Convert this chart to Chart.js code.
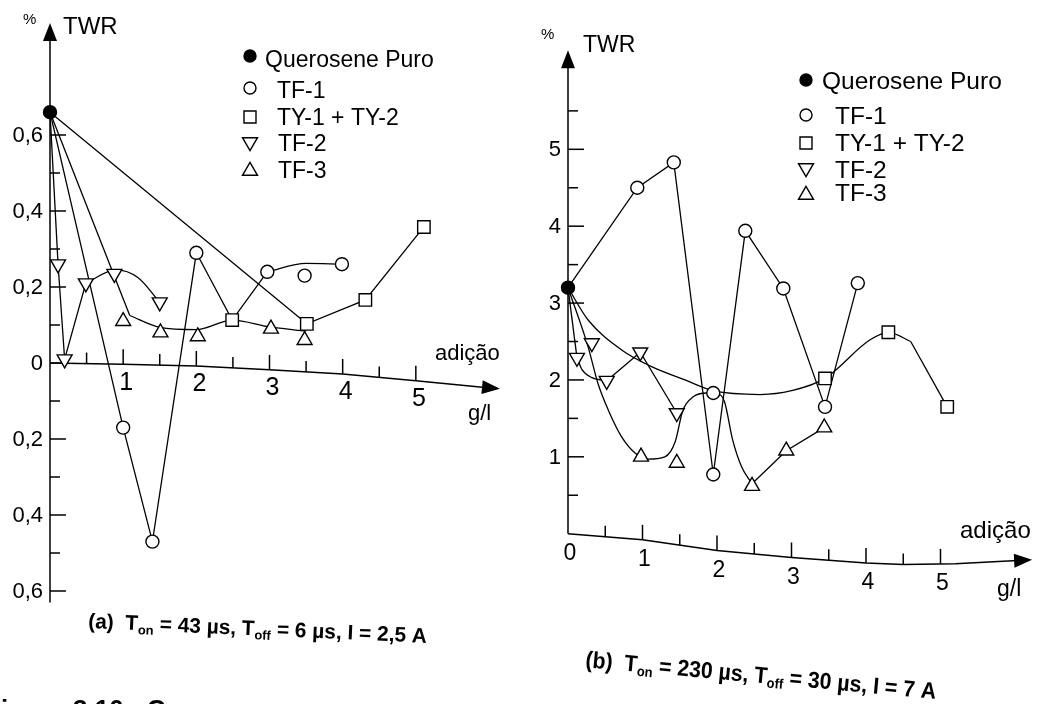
<!DOCTYPE html>
<html><head><meta charset="utf-8">
<script src="https://cdn.jsdelivr.net/npm/chart.js@4.4.1/dist/chart.umd.min.js"></script>
<style>
html,body{margin:0;padding:0;background:#fff;width:1041px;height:704px;overflow:hidden}
#wa{position:absolute;left:0;top:0;width:520px;height:704px}
#wb{position:absolute;left:520px;top:0;width:521px;height:704px}
canvas{display:block}
</style></head><body>
<div id="wa"><canvas id="ca" width="520" height="704"></canvas></div>
<div id="wb"><canvas id="cb" width="521" height="704"></canvas></div>
<script>
// ---------- legend / series names ----------
const seriesNames = ['Querosene Puro', 'TF-1', 'TY-1 + TY-2', 'TF-2', 'TF-3'];

// ---------- Panel (a) : Ton = 43 us ----------
const aQuerosene = [[0, 0.66]];
const aTF1 = [[1.0, -0.17], [1.4, -0.47], [2.0, 0.29], [2.97, 0.24], [3.48, 0.23], [3.99, 0.26]];
const aTY = [[2.49, 0.113], [3.51, 0.103], [4.31, 0.166], [5.11, 0.358]];
const aTF2 = [[0.11, 0.26], [0.2, 0.01], [0.49, 0.21], [0.88, 0.235], [1.5, 0.16]];
const aTF3 = [[1.0, 0.11], [1.51, 0.08], [2.02, 0.07], [3.02, 0.09], [3.48, 0.06]];
// connecting lines / fitted curves
const aLineTF1 = [[0, 0.66], [1.0, -0.17], [1.4, -0.47], [2.0, 0.29], [2.49, 0.113], [2.97, 0.24]];
const aCurveTF1 = [[2.97, 0.24], [3.5, 0.262], [3.99, 0.26]];
const aLineTY = [[0, 0.66], [3.51, 0.103], [4.31, 0.166], [5.11, 0.358]];
const aLineTF2 = [[0, 0.66], [0.11, 0.26], [0.2, 0.01], [0.49, 0.21]];
const aCurveTF2 = [[0.49, 0.21], [0.9, 0.245], [1.2, 0.225], [1.5, 0.16]];
const aLineTF3 = [[0, 0.66], [1.09, 0.125]];
const aCurveTF3 = [[1.09, 0.125], [1.5, 0.094], [2.0, 0.088], [2.49, 0.113], [3.0, 0.095], [3.5, 0.084]];
// ticks
const aXTickMarks = [0.5, 1, 1.5, 2, 2.5, 3, 3.5, 4, 4.5, 5];
const aXTickValues = [1, 2, 3, 4, 5];
const aXTickLabels = ['1', '2', '3', '4', '5'];
const aYTickValues = [0.6, 0.4, 0.2, 0, -0.2, -0.4, -0.6];
const aYTickLabels = ['0,6', '0,4', '0,2', '0', '0,2', '0,4', '0,6'];
const aYMinorTicks = [0.5, 0.3, 0.1, -0.1, -0.3, -0.5];

// ---------- Panel (b) : Ton = 230 us ----------
const bQuerosene = [[0, 3.2]];
const bTF1 = [[0.93, 4.5], [1.42, 4.83], [1.95, 0.77], [1.95, 1.83], [2.38, 3.94], [2.89, 3.19], [3.45, 1.65], [3.89, 3.26]];
const bTY = [[3.45, 2.02], [4.3, 2.62], [5.09, 1.65]];
const bTF2 = [[0.12, 2.29], [0.32, 2.48], [0.52, 1.99], [0.97, 2.36], [1.46, 1.57]];
const bTF3 = [[0.98, 1.0], [1.46, 0.92], [2.47, 0.62], [2.93, 1.08], [3.44, 1.38]];
const bLineTF1 = [[0, 3.2], [0.93, 4.5], [1.42, 4.83], [1.95, 0.77], [2.38, 3.94], [2.89, 3.19], [3.45, 1.65], [3.89, 3.26]];
const bCurveTY = [[0, 3.2], [0.27, 2.78], [0.72, 2.39], [1.13, 2.17], [1.57, 2.0], [1.95, 1.86], [2.58, 1.81], [3.0, 1.86], [3.45, 2.02], [4.05, 2.52], [4.3, 2.62], [4.6, 2.5]];
const bLineTY = [[4.6, 2.5], [5.09, 1.65]];
const bLineTF2a = [[0, 3.2], [0.12, 2.29]];
const bCurveTF2 = [[0.12, 2.29], [0.19, 2.13], [0.32, 2.03], [0.52, 1.99]];
const bLineTF2b = [[0.52, 1.99], [0.97, 2.36], [1.46, 1.57]];
const bCurveTF3 = [[0, 3.2], [0.27, 2.43], [0.4, 1.96], [0.54, 1.61], [0.72, 1.26], [0.9, 1.05], [1.07, 0.97], [1.3, 1.0], [1.44, 1.2], [1.54, 1.6], [1.68, 1.78], [1.86, 1.83], [2.0, 1.82], [2.1, 1.72], [2.21, 1.22], [2.33, 0.87], [2.47, 0.65]];
const bLineTF3 = [[2.47, 0.65], [2.93, 1.08], [3.44, 1.38]];
const bXTickMarks = [0.5, 1, 1.5, 2, 2.5, 3, 3.5, 4, 4.5, 5];
const bXTickValues = [0, 1, 2, 3, 4, 5];
const bXTickLabels = ['0', '1', '2', '3', '4', '5'];
const bYTickValues = [1, 2, 3, 4, 5];
const bYTickLabels = ['1', '2', '3', '4', '5'];
const bYMinorTicks = [0.5, 1.5, 2.5, 3.5, 4.5, 5.5];

// ---------- helpers ----------
const FONT = '"Liberation Sans", Arial, Helvetica, sans-serif';
const pts = arr => arr.map(p => ({x: p[0], y: p[1]}));

function markerSet(label, arr, kind) {
  const d = {label, data: pts(arr), showLine: false, clip: false, order: 0,
    pointBorderColor: '#000', pointBorderWidth: 1.4, pointBackgroundColor: '#fff',
    pointStyle: 'circle', pointRadius: 6.5, pointRotation: 0};
  if (kind === 'dot') { d.pointBackgroundColor = '#000'; d.pointRadius = 6.5; }
  if (kind === 'square') { d.pointStyle = 'rect'; d.pointRadius = 8.8; }
  if (kind === 'down') { d.pointStyle = 'triangle'; d.pointRadius = 8.6; d.pointRotation = 180; }
  if (kind === 'up') { d.pointStyle = 'triangle'; d.pointRadius = 8.6; }
  d.pointHoverRadius = d.pointRadius;
  return d;
}
function lineSet(arr, curved) {
  return {data: pts(arr), showLine: true, pointRadius: 0, pointHoverRadius: 0, borderColor: '#000',
    borderWidth: 1.3, fill: false, clip: false, order: 1,
    tension: curved ? 0.4 : 0, cubicInterpolationMode: curved ? 'monotone' : 'default'};
}
function interp(path, v) {
  for (let i = 0; i < path.length - 1; i++) {
    const a = path[i], b = path[i + 1];
    if (v >= a[0] && v <= b[0]) return a[1] + (b[1] - a[1]) * (v - a[0]) / (b[0] - a[0]);
  }
  return path[path.length - 1][1];
}
function arrow(ctx, tx, ty, dx, dy, len, half) {
  const n = Math.hypot(dx, dy); dx /= n; dy /= n;
  const bx = tx - dx * len, by = ty - dy * len;
  ctx.beginPath(); ctx.moveTo(tx, ty);
  ctx.lineTo(bx - dy * half, by + dx * half);
  ctx.lineTo(bx + dy * half, by - dx * half);
  ctx.closePath(); ctx.fill();
}
function legendMarker(ctx, kind, x, y) {
  ctx.beginPath();
  if (kind === 'dot' || kind === 'circle') ctx.arc(x, y, 6, 0, Math.PI * 2);
  else if (kind === 'square') ctx.rect(x - 6, y - 6, 12, 12);
  else if (kind === 'down') { ctx.moveTo(x - 7.5, y - 4.3); ctx.lineTo(x + 7.5, y - 4.3); ctx.lineTo(x, y + 8.7); ctx.closePath(); }
  else { ctx.moveTo(x, y - 8.7); ctx.lineTo(x - 7.5, y + 4.3); ctx.lineTo(x + 7.5, y + 4.3); ctx.closePath(); }
  ctx.fillStyle = kind === 'dot' ? '#000' : '#fff'; ctx.fill();
  ctx.lineWidth = 1.4; ctx.strokeStyle = '#000'; ctx.stroke();
}
function richText(ctx, segs, x, y, angle, size, targetW) {
  ctx.save(); ctx.translate(x, y); ctx.rotate(angle * Math.PI / 180);
  let w = 0;
  segs.forEach(s => { ctx.font = `bold ${Math.round(size * s[1])}px ${FONT}`; w += ctx.measureText(s[0]).width; });
  ctx.scale(targetW / w, 1);
  let cx = 0; ctx.textBaseline = 'alphabetic'; ctx.textAlign = 'left'; ctx.fillStyle = '#000';
  segs.forEach(s => { ctx.font = `bold ${Math.round(size * s[1])}px ${FONT}`; ctx.fillText(s[0], cx, s[2]); cx += ctx.measureText(s[0]).width; });
  ctx.restore();
}

const markerKinds = ['dot', 'circle', 'square', 'down', 'up'];

// ---------- panel styles (positions in page pixels) ----------
const PANELS = {
  ca: {
    offX: 0,
    xTicks: aXTickMarks, xLabelVals: aXTickValues, xLabels: aXTickLabels, xLabelSize: 25, xLabelDx: 3, xLabelDy: 18.5,
    yMajor: aYTickValues, yLabels: aYTickLabels, yMinor: aYMinorTicks, yLabelSize: 22,
    yAxisFrom: -0.63, yAxisTo: 0.895,
    xAxisPath: [[0, 0], [1, -0.003], [2, -0.008], [3, -0.018], [4, -0.029], [5, -0.047], [6.15, -0.068]],
    pct: [28, 20, 15], twr: [63, 27, 24],
    adicao: [435, 354, 22], gl: [468, 414, 22],
    legend: {mx: 250, tx: [265, 277, 277, 278, 278], my: [56, 88, 117, 142, 171], ty: [61, 92, 119, 145, 172], size: 23},
    caption: {segs: [['(a)  ', 1, 0], ['T', 1, 0], ['on', 0.62, 4], [' = 43 µs, ', 1, 0], ['T', 1, 0], ['off', 0.62, 4], [' = 6 µs, I = 2,5 A', 1, 0]],
      x: 88, y: 628, angle: 2.5, size: 21, w: 339},
    footer: true
  },
  cb: {
    offX: 520,
    xTicks: bXTickMarks, xLabelVals: bXTickValues, xLabels: bXTickLabels, xLabelSize: 23, xLabelDx: 2, xLabelDy: 20,
    yMajor: bYTickValues, yLabels: bYTickLabels, yMinor: bYMinorTicks, yLabelSize: 22,
    yAxisFrom: 0, yAxisTo: 6.29,
    xAxisPath: [[0, 0], [1, -0.08], [2, -0.22], [3, -0.31], [4, -0.38], [4.5, -0.40], [5.2, -0.39], [6.23, -0.34]],
    pct: [546, 35, 15], twr: [583, 46, 23],
    adicao: [960, 531, 24], gl: [997, 590, 23],
    legend: {mx: 806, tx: [822, 835, 835, 835, 835], my: [80, 115, 143, 168, 195], ty: [82, 117, 144, 171, 194], size: 24.5},
    caption: {segs: [['(b)  ', 1, 0], ['T', 1, 0], ['on', 0.62, 4], [' = 230 µs, ', 1, 0], ['T', 1, 0], ['off', 0.62, 4], [' = 30 µs, I = 7 A', 1, 0]],
      x: 585, y: 667, angle: 5.2, size: 23, w: 352},
    footer: false
  }
};

const sketchPlugin = {
  id: 'sketch',
  beforeDatasetsDraw(chart) {
    const P = PANELS[chart.canvas.id]; if (!P) return;
    const ctx = chart.ctx, xs = chart.scales.x, ys = chart.scales.y;
    const X = v => xs.getPixelForValue(v), Y = v => ys.getPixelForValue(v);
    ctx.save();
    ctx.strokeStyle = '#000'; ctx.fillStyle = '#000'; ctx.lineWidth = 1.5; ctx.lineCap = 'butt';
    // y axis
    const x0 = X(0);
    ctx.beginPath(); ctx.moveTo(x0, Y(P.yAxisFrom)); ctx.lineTo(x0, Y(P.yAxisTo) + 10); ctx.stroke();
    arrow(ctx, x0, Y(P.yAxisTo), 0, -1, 18, 7);
    P.yMajor.forEach(v => { ctx.beginPath(); ctx.moveTo(x0, Y(v)); ctx.lineTo(x0 + 16, Y(v)); ctx.stroke(); });
    P.yMinor.forEach(v => { ctx.beginPath(); ctx.moveTo(x0, Y(v)); ctx.lineTo(x0 + 10, Y(v)); ctx.stroke(); });
    // x axis (follows the slightly bent baseline of the scan)
    const path = P.xAxisPath;
    ctx.beginPath();
    path.forEach((p, i) => { const px = X(p[0]), py = Y(p[1]); if (i === 0) ctx.moveTo(px, py); else if (i === path.length - 1) {
      const q = path[i - 1]; const dx = X(p[0]) - X(q[0]), dy = Y(p[1]) - Y(q[1]); const n = Math.hypot(dx, dy);
      ctx.lineTo(px - dx / n * 10, py - dy / n * 10); } else ctx.lineTo(px, py); });
    ctx.stroke();
    const L = path[path.length - 1], K = path[path.length - 2];
    arrow(ctx, X(L[0]), Y(L[1]), X(L[0]) - X(K[0]), Y(L[1]) - Y(K[1]), 18, 7);
    P.xTicks.forEach(v => {
      const yy = Y(interp(path, v)); const len = Number.isInteger(v) ? 15 : 11;
      ctx.beginPath(); ctx.moveTo(X(v), yy); ctx.lineTo(X(v), yy - len); ctx.stroke();
    });
    ctx.restore();
  },
  afterDatasetsDraw(chart) {
    const P = PANELS[chart.canvas.id]; if (!P) return;
    const ctx = chart.ctx, xs = chart.scales.x, ys = chart.scales.y;
    const X = v => xs.getPixelForValue(v), Y = v => ys.getPixelForValue(v);
    const o = P.offX;
    ctx.save(); ctx.fillStyle = '#000';
    // y tick labels
    ctx.font = `${P.yLabelSize}px ${FONT}`; ctx.textAlign = 'right'; ctx.textBaseline = 'middle';
    P.yMajor.forEach((v, i) => ctx.fillText(P.yLabels[i], X(0) - 7, Y(v) + 1));
    // x tick labels
    ctx.font = `${P.xLabelSize}px ${FONT}`; ctx.textAlign = 'center';
    P.xLabelVals.forEach((v, i) => ctx.fillText(P.xLabels[i], X(v) + P.xLabelDx, Y(interp(P.xAxisPath, v)) + P.xLabelDy));
    // axis titles
    ctx.textAlign = 'left';
    ctx.font = `${P.pct[2]}px ${FONT}`; ctx.fillText('%', P.pct[0] - o - 5, P.pct[1]);
    ctx.font = `${P.twr[2]}px ${FONT}`; ctx.fillText('TWR', P.twr[0] - o, P.twr[1]);
    ctx.font = `${P.adicao[2]}px ${FONT}`; ctx.fillText('adição', P.adicao[0] - o, P.adicao[1]);
    ctx.font = `${P.gl[2]}px ${FONT}`; ctx.fillText('g/l', P.gl[0] - o, P.gl[1]);
    // legend
    const lg = P.legend;
    seriesNames.forEach((name, i) => {
      legendMarker(ctx, markerKinds[i], lg.mx - o, lg.my[i]);
      ctx.fillStyle = '#000'; ctx.font = `${lg.size}px ${FONT}`; ctx.textAlign = 'left'; ctx.textBaseline = 'middle';
      ctx.fillText(name, lg.tx[i] - o, lg.ty[i]);
    });
    // caption
    const c = P.caption;
    richText(ctx, c.segs, c.x - o, c.y, c.angle, c.size, c.w);
    if (P.footer) {
      ctx.fillStyle = '#000'; ctx.font = `bold 26px ${FONT}`; ctx.textAlign = 'left'; ctx.textBaseline = 'alphabetic';
      ctx.fillText('Figura', -15, 718);
      ctx.fillText('3.10 - C', 73, 718);
    }
    ctx.restore();
  }
};

function makeChart(id, datasets, xr, yr, pad) {
  return new Chart(document.getElementById(id), {
    type: 'scatter',
    data: {datasets},
    options: {
      responsive: false, animation: false, devicePixelRatio: 1, events: [],
      layout: {padding: pad},
      scales: {
        x: {type: 'linear', display: false, min: xr[0], max: xr[1]},
        y: {type: 'linear', display: false, min: yr[0], max: yr[1]}
      },
      plugins: {legend: {display: false}, tooltip: {enabled: false}}
    },
    plugins: [sketchPlugin]
  });
}

makeChart('ca', [
  markerSet(seriesNames[0], aQuerosene, 'dot'),
  markerSet(seriesNames[1], aTF1, 'circle'),
  markerSet(seriesNames[2], aTY, 'square'),
  markerSet(seriesNames[3], aTF2, 'down'),
  markerSet(seriesNames[4], aTF3, 'up'),
  lineSet(aLineTF1, false), lineSet(aCurveTF1, true),
  lineSet(aLineTY, false),
  lineSet(aLineTF2, false), lineSet(aCurveTF2, true),
  lineSet(aLineTF3, false), lineSet(aCurveTF3, true)
], [0, 6], [-0.65, 0.9], {left: 50, right: 31, top: 21, bottom: 94});

makeChart('cb', [
  markerSet(seriesNames[0], bQuerosene, 'dot'),
  markerSet(seriesNames[1], bTF1, 'circle'),
  markerSet(seriesNames[2], bTY, 'square'),
  markerSet(seriesNames[3], bTF2, 'down'),
  markerSet(seriesNames[4], bTF3, 'up'),
  lineSet(bLineTF1, false),
  lineSet(bCurveTY, true), lineSet(bLineTY, false),
  lineSet(bLineTF2a, false), lineSet(bCurveTF2, true), lineSet(bLineTF2b, false),
  lineSet(bCurveTF3, true), lineSet(bLineTF3, false)
], [0, 6], [-1.5, 6.5], {left: 48, right: 26, top: 34, bottom: 55});
</script>
</body></html>
